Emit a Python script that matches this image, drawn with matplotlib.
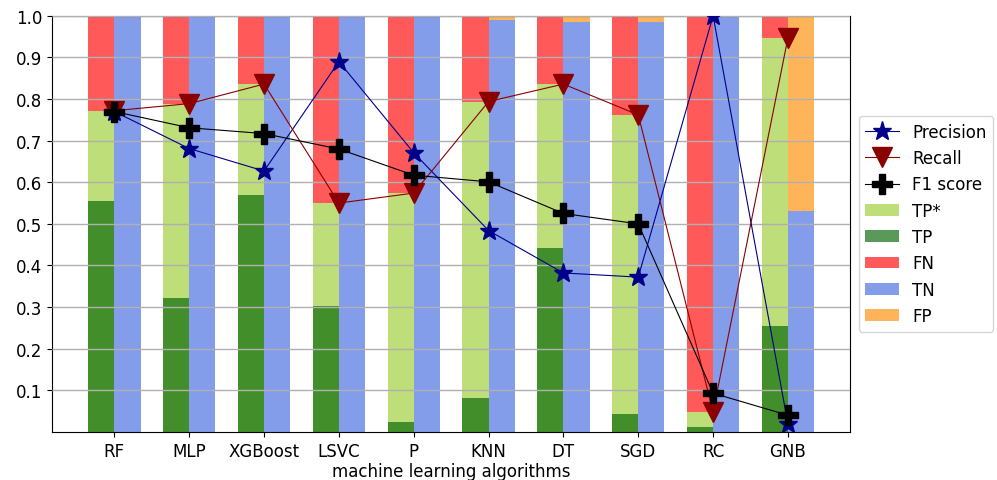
import numpy as np
import matplotlib
matplotlib.use("Agg")
import matplotlib.pyplot as plt

algorithms = ["RF", "MLP", "XGBoost", "LSVC", "P", "KNN", "DT", "SGD", "RC", "GNB"]
tp = [0.556, 0.322, 0.569, 0.302, 0.024, 0.081, 0.441, 0.043, 0.011, 0.255]
tp_star = [0.772, 0.789, 0.836, 0.550, 0.574, 0.794, 0.836, 0.762, 0.048, 0.947]
tn = [0.998, 0.997, 0.997, 1.000, 0.998, 0.991, 0.986, 0.986, 1.000, 0.532]
precision = [0.770, 0.681, 0.627, 0.890, 0.671, 0.484, 0.382, 0.372, 1.000, 0.019]
recall = [0.772, 0.789, 0.836, 0.550, 0.574, 0.794, 0.836, 0.762, 0.048, 0.947]
f1 = [0.770, 0.731, 0.717, 0.680, 0.617, 0.601, 0.525, 0.500, 0.093, 0.040]

x = np.arange(len(algorithms))
w = 0.35
a = 0.65
fn = [1 - v for v in tp_star]
fp = [1 - v for v in tn]

fig, ax = plt.subplots(figsize=(9.97, 4.81), dpi=100)

ax.bar(x - w / 2, tp_star, w, color="yellowgreen", alpha=a, label="TP*")
ax.bar(x - w / 2, tp, w, color="darkgreen", alpha=a, label="TP")
ax.bar(x - w / 2, fn, w, bottom=tp_star, color="red", alpha=a, label="FN")
ax.bar(x + w / 2, tn, w, color="royalblue", alpha=a, label="TN")
ax.bar(x + w / 2, fp, w, bottom=tn, color="darkorange", alpha=a, label="FP")

ax.plot(x, precision, marker="*", color="darkblue", lw=0.8, ms=14, label="Precision", zorder=4)
ax.plot(x, recall, marker="v", color="darkred", lw=0.8, ms=14, label="Recall", zorder=4)
ax.plot(x, f1, marker="P", color="black", lw=0.8, ms=14, label="F1 score", zorder=5)

ax.set_ylim(0, 1.0)
yt = np.arange(0.1, 1.01, 0.1)
ax.set_yticks(yt)
ax.set_yticklabels([f"{v:.1f}" for v in yt], fontsize=12)
ax.set_xticks(x)
ax.set_xticklabels(algorithms, fontsize=12)
ax.set_xlabel("machine learning algorithms", fontsize=12, labelpad=2)
ax.yaxis.grid(True, color="#b0b0b0", lw=1.0)
ax.set_axisbelow(False)

handles, labels = ax.get_legend_handles_labels()
order = ["Precision", "Recall", "F1 score", "TP*", "TP", "FN", "TN", "FP"]
hmap = dict(zip(labels, handles))
ax.legend([hmap[k] for k in order], order, loc="center left",
          bbox_to_anchor=(1.0, 0.5), fontsize=12)

fig.subplots_adjust(left=0.052, right=0.853, top=0.965, bottom=0.1)
fig.savefig("out.png", dpi=100)
